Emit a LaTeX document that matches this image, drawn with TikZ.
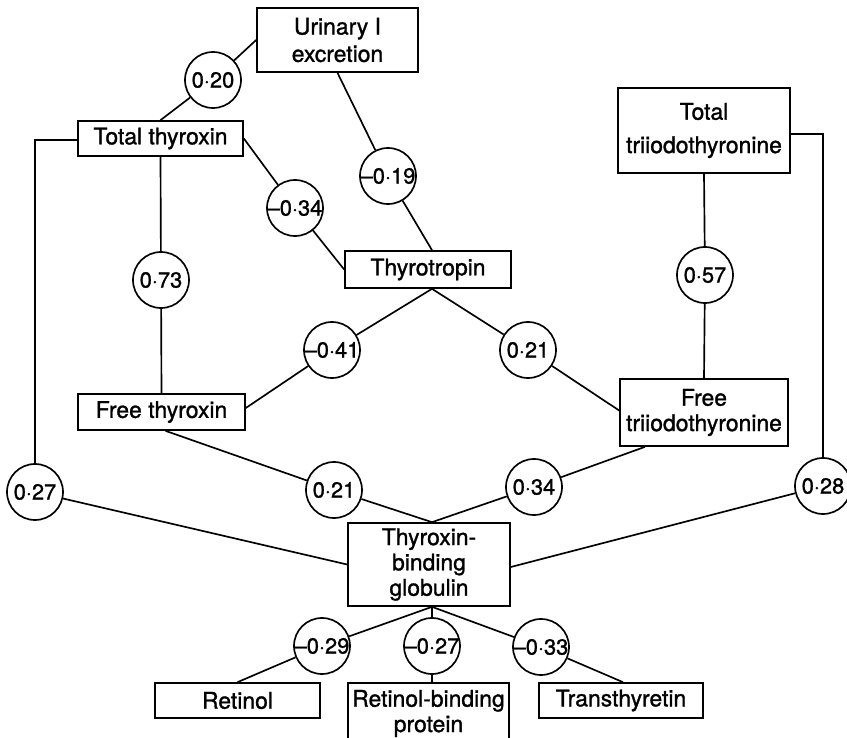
\documentclass[tikz,border=0pt]{standalone}
\usepackage{fontspec}
\setmainfont[FakeBold=1.2]{TeX Gyre Heros}
\begin{document}
\begin{tikzpicture}[x=0.75pt,y=-0.75pt, line width=1.25pt,
  box/.style={draw, rectangle, align=center, inner sep=1pt, font=\fontsize{17.2}{19}\selectfont},
  corr/.style={draw, circle, minimum size=42pt, inner sep=0pt, font=\fontsize{16.4}{18}\selectfont},
  link/.style={line width=1.25pt}]
\useasboundingbox (0,0) rectangle (847,738);

% boxes
\node[box, minimum width=120.75pt, minimum height=48pt] (U) at (337.5,40) {Urinary I\\[1.5pt]excretion};
\node[box, minimum width=123.75pt, minimum height=26.25pt] (TT) at (160.5,138.5) {Total thyroxin};
\node[box, minimum width=124.5pt, minimum height=27.75pt] (TH) at (428,269.5) {Thyrotropin};
\node[box, minimum width=125.25pt, minimum height=27pt] (FT) at (161.5,412) {Free thyroxin};
\node[box, minimum width=129pt, minimum height=63.75pt] (TT3) at (704,130.5) {Total\\[6pt]triiodothyronine};
\node[box, minimum width=126pt, minimum height=50.25pt] (FT3) at (704,412.5) {Free\\triiodothyronine};
\node[box, minimum width=121.5pt, minimum height=62.25pt] (TBG) at (429,564.5) {Thyroxin-\\binding\\globulin};
\node[box, minimum width=123.75pt, minimum height=26.25pt] (RET) at (237.5,700.5) {Retinol};
\node[box, minimum width=120.75pt, minimum height=45.75pt] (RBP) at (428.5,713.5) {Retinol-binding\\protein};
\node[box, minimum width=123pt, minimum height=26.25pt] (TR) at (621,700.5) {Transthyretin};

% correlation circles
\node[corr] (c20) at (213,80) {\makebox[0pt]{0·20}};
\node[corr] (c19) at (388,176) {\makebox[0pt]{–0·19}};
\node[corr] (c34a) at (295,208) {\makebox[0pt]{–0·34}};
\node[corr] (c73) at (161,280) {\makebox[0pt]{0·73}};
\node[corr] (c41) at (332,350) {\makebox[0pt]{–0·41}};
\node[corr] (c21a) at (528,350) {\makebox[0pt]{0·21}};
\node[corr] (c57) at (705,275) {\makebox[0pt]{0·57}};
\node[corr] (c27a) at (35,492) {\makebox[0pt]{0·27}};
\node[corr] (c21b) at (334,490) {\makebox[0pt]{0·21}};
\node[corr] (c34b) at (534,487) {\makebox[0pt]{0·34}};
\node[corr] (c28) at (823,486) {\makebox[0pt]{0·28}};
\node[corr] (c29) at (322,646) {\makebox[0pt]{–0·29}};
\node[corr] (c27b) at (432,646) {\makebox[0pt]{–0·27}};
\node[corr] (c33) at (541,647) {\makebox[0pt]{–0·33}};

\coordinate (FT3b) at ([shift={(-59,0)}]FT3.south);
\coordinate (FTb) at ([shift={(4,0)}]FT.south);

% connectors
\draw[link] (U.west) -- (c20);
\draw[link] (c20) -- (TT.north);
\draw[link] (U.south) -- (c19);
\draw[link] (c19) -- ([shift={(4,0)}]TH.north);
\draw[link] (TT.east) -- (c34a);
\draw[link] (c34a) -- (TH.west);
\draw[link] (TT.south) -- (c73);
\draw[link] (c73) -- (FT.north);
\draw[link] ([shift={(4,0)}]TH.south) -- (c41);
\draw[link] (c41) -- ([shift={(0,-4)}]FT.east);
\draw[link] ([shift={(4,0)}]TH.south) -- (c21a);
\draw[link] (c21a) -- ([shift={(0,-2)}]FT3.west);
\draw[link] (TT3.south) -- (c57);
\draw[link] (c57) -- (FT3.north);
\draw[link] ([shift={(0,1.5)}]TT.west) -| (c27a);
\draw[link] (c27a) -- (TBG.west);
\draw[link] ([shift={(0,3.5)}]TT3.east) -| (c28);
\draw[link] (c28) -- ([shift={(0,2.5)}]TBG.east);
\draw[link] (FTb) -- (c21b);
\draw[link] (c21b) -- ([shift={(3,0)}]TBG.north);
\draw[link] (FT3b) -- (c34b);
\draw[link] (c34b) -- ([shift={(3,0)}]TBG.north);
\draw[link] ([shift={(3,0)}]TBG.south) -- (c29);
\draw[link] (c29) -- (RET.north);
\draw[link] ([shift={(3,0)}]TBG.south) -- (c27b);
\draw[link] (c27b) -- ([shift={(3.5,0)}]RBP.north);
\draw[link] ([shift={(3,0)}]TBG.south) -- (c33);
\draw[link] (c33) -- ([shift={(2,0)}]TR.north);
\end{tikzpicture}
\end{document}
